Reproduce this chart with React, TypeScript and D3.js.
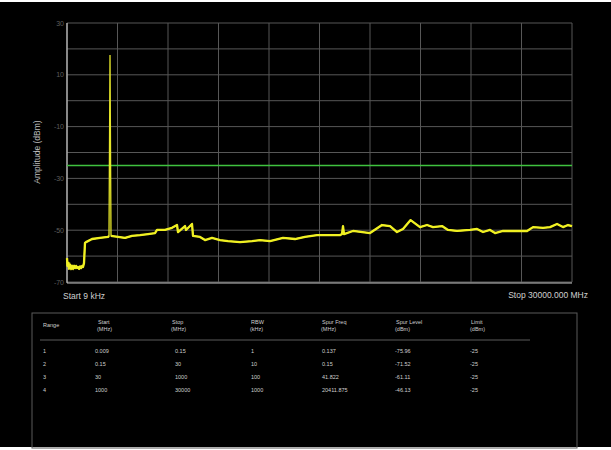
import React, { useEffect, useRef } from 'react';
import * as d3 from 'd3';

const traceFreq = [
  0, 30, 90, 119, 180, 240, 297, 360, 420, 480, 540, 600, 653, 720, 780, 840, 900, 951, 1010, 1069,
  1129, 1485, 1961, 2436, 2495, 2555, 2614, 3030, 3446, 3862, 4337, 4812, 5228, 5347, 5822, 6238,
  6535, 6594, 7010, 7070, 7426, 7486, 7902, 8199, 8615, 9090, 9565, 10278, 10991, 11466, 12060,
  12832, 13545, 14139, 14851, 15624, 16218, 16337, 16396, 16455, 16990, 18001, 18713, 19189, 19605,
  19961, 20412, 20971, 21387, 21744, 22278, 22635, 23170, 23942, 24358, 24715, 25131, 25428, 25903,
  26616, 27329, 27685, 28279, 28695, 29111, 29467, 29764, 30000,
];
const traceLevel = [
  -60.8, -63.8, -62.6, -64.9, -63.4, -64.9, -63.8, -64.9, -63.8, -64.6, -63.8, -64.6, -64.2, -64.9,
  -64.0, -64.6, -63.8, -64.2, -62.7, -54.9,
  -54.6, -53.4, -53.0, -52.6, -52.2, 17.6, -52.2, -52.6, -53.0, -52.2, -51.9, -51.5, -51.1, -49.9,
  -49.9, -49.1, -48.0, -50.7, -48.4, -49.9, -47.6, -52.2, -52.6, -53.8, -53.0, -53.8, -54.2, -54.6,
  -54.2, -53.8, -54.2, -53.0, -53.4, -52.6, -51.9, -51.9, -51.9, -51.5, -48.4, -51.5, -50.3, -51.1,
  -48.0, -48.4, -50.7, -49.5, -46.1, -48.8, -48.0, -48.8, -48.4, -49.9, -50.3, -49.9, -49.5, -50.7,
  -49.9, -51.1, -50.3, -50.3, -50.3, -48.8, -49.1, -48.8, -47.6, -48.8, -48.0, -48.4,
];
const limitLevel = -25;
const yTickValues = [30, 10, -10, -30, -50, -70];

// spur table
const tableHeaders = [
  ['Range', ''],
  ['Start', '(MHz)'],
  ['Stop', '(MHz)'],
  ['RBW', '(kHz)'],
  ['Spur Freq', '(MHz)'],
  ['Spur Level', '(dBm)'],
  ['Limit', '(dBm)'],
];
const rangeIds = ['1', '2', '3', '4'];
const startMHz = ['0.009', '0.15', '30', '1000'];
const stopMHz = ['0.15', '30', '1000', '30000'];
const rbwKHz = ['1', '10', '100', '1000'];
const spurFreq = ['0.137', '0.15', '41.822', '20411.875'];
const spurLevel = ['-75.96', '-71.52', '-61.11', '-46.13'];
const limits = ['-25', '-25', '-25', '-25'];

const W = 611;
const H = 450;

export default function App() {
  const ref = useRef<SVGSVGElement | null>(null);

  useEffect(() => {
    if (!ref.current) return;
    const svg = d3.select(ref.current).html('');
    const font = 'Liberation Sans, Arial, sans-serif';

    svg.append('rect').attr('width', W).attr('height', H).attr('fill', '#fff');
    svg.append('rect').attr('x', 0).attr('y', 2).attr('width', W).attr('height', 445).attr('fill', '#000');

    const left = 67, right = 572, top = 23, bottom = 282;
    const x = d3.scaleLinear().domain([0, 30000]).range([left, right]);
    const y = d3.scaleLinear().domain([-70, 30]).range([bottom, top]);

    // grid
    const g = svg.append('g');
    g.selectAll('.hg')
      .data(d3.range(-70, 31, 10))
      .enter()
      .append('line')
      .attr('x1', left)
      .attr('x2', right)
      .attr('y1', d => y(d))
      .attr('y2', d => y(d))
      .attr('stroke', '#575757')
      .attr('stroke-width', 1);
    g.selectAll('.vg')
      .data(d3.range(0, 30001, 3000))
      .enter()
      .append('line')
      .attr('x1', d => x(d))
      .attr('x2', d => x(d))
      .attr('y1', top)
      .attr('y2', bottom)
      .attr('stroke', '#575757')
      .attr('stroke-width', 1);

    // axes lines
    g.append('line').attr('x1', left).attr('x2', left).attr('y1', top).attr('y2', bottom + 1)
      .attr('stroke', '#c8c8c8').attr('stroke-width', 1.2);
    g.append('line').attr('x1', left).attr('x2', right).attr('y1', bottom + 1).attr('y2', bottom + 1)
      .attr('stroke', '#c8c8c8').attr('stroke-width', 1.2);

    // y tick labels
    g.selectAll('.yl')
      .data(yTickValues)
      .enter()
      .append('text')
      .attr('x', left - 3)
      .attr('y', d => y(d) + 2.5)
      .attr('text-anchor', 'end')
      .attr('font-family', font)
      .attr('font-size', 7)
      .attr('fill', '#5e5e5e')
      .text(d => String(d));

    g.append('text')
      .attr('transform', `translate(40, 152) rotate(-90)`)
      .attr('text-anchor', 'middle')
      .attr('font-family', font)
      .attr('font-size', 8.5)
      .attr('fill', '#bdbdbd')
      .text('Amplitude (dBm)');

    g.append('text')
      .attr('x', 63).attr('y', 299)
      .attr('font-family', font).attr('font-size', 8.5).attr('fill', '#d0d0d0')
      .text('Start 9 kHz');
    g.append('text')
      .attr('x', 588).attr('y', 298).attr('text-anchor', 'end')
      .attr('font-family', font).attr('font-size', 8.5).attr('fill', '#d0d0d0')
      .text('Stop 30000.000 MHz');

    // limit line
    g.append('line')
      .attr('x1', left).attr('x2', right)
      .attr('y1', y(limitLevel)).attr('y2', y(limitLevel))
      .attr('stroke', '#3fc23f').attr('stroke-width', 1.6);

    // trace: thin pass draws everything (incl. the narrow spur), thick pass the noise floor
    const pts = traceFreq.map((f, i) => [f, traceLevel[i]] as [number, number]);
    const thin = d3.line<[number, number]>().x(d => x(d[0])).y(d => y(d[1]));
    const thick = d3.line<[number, number]>()
      .defined(d => d[1] < limitLevel)
      .x(d => x(d[0]))
      .y(d => y(d[1]));
    g.append('path')
      .datum(pts)
      .attr('d', thin)
      .attr('fill', 'none')
      .attr('stroke', '#e6e62a')
      .attr('stroke-width', 1.3);
    g.append('path')
      .datum(pts)
      .attr('d', thick)
      .attr('fill', 'none')
      .attr('stroke', '#f0f022')
      .attr('stroke-width', 2.3)
      .attr('stroke-linejoin', 'round');

    // table
    const tb = svg.append('g');
    tb.append('rect')
      .attr('x', 32).attr('y', 313).attr('width', 545).attr('height', 135)
      .attr('fill', 'none').attr('stroke', '#5a5a5a').attr('stroke-width', 1);
    tb.append('line').attr('x1', 40).attr('x2', 530).attr('y1', 340).attr('y2', 340)
      .attr('stroke', '#5a5a5a').attr('stroke-width', 1);

    const colX = [43, 98, 172, 251, 322, 396, 471];
    const valX = [43, 95, 175, 251, 322, 395, 470];
    tableHeaders.forEach((h, i) => {
      const t = tb.append('text')
        .attr('font-family', font).attr('font-size', 5.5).attr('fill', '#cfcfcf');
      t.append('tspan').attr('x', colX[i]).attr('y', h[1] ? 324 : 327).text(h[0]);
      if (h[1]) t.append('tspan').attr('x', colX[i] - 1).attr('y', 331).text(h[1]);
    });
    const cols = [rangeIds, startMHz, stopMHz, rbwKHz, spurFreq, spurLevel, limits];
    const rowY = d3.scaleBand().domain(rangeIds).range([345, 397]);
    cols.forEach((col, ci) => {
      tb.selectAll(`.c${ci}`)
        .data(col)
        .enter()
        .append('text')
        .attr('x', valX[ci])
        .attr('y', (_, ri) => (rowY(rangeIds[ri]) as number) + 8)
        .attr('font-family', font)
        .attr('font-size', 5.5)
        .attr('fill', '#cfcfcf')
        .text(d => d);
    });
  }, []);

  return (
    <svg
      ref={ref}
      width={W}
      height={H}
      style={{ position: 'absolute', left: 0, top: 0, display: 'block' }}
    />
  );
}
